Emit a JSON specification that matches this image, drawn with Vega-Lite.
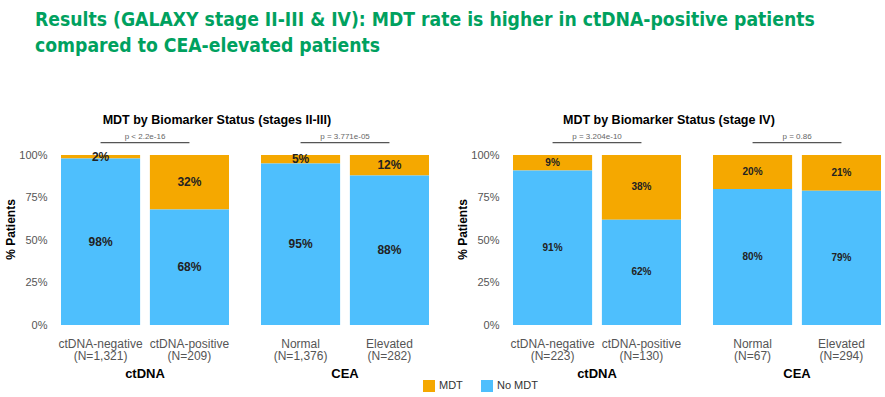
{
  "$schema": "https://vega.github.io/schema/vega-lite/v6.json",
  "padding": {"left": 4, "top": 11, "right": 0, "bottom": 0},
  "background": "white",
  "config": {
    "font": "Liberation Sans",
    "view": {"stroke": null},
    "axis": {"grid": false, "domain": false, "ticks": false}
  },
  "title": {
    "text": ["Results (GALAXY stage II-III & IV): MDT rate is higher in ctDNA-positive patients", "compared to CEA-elevated patients"],
    "font": "DejaVu Sans Condensed, Liberation Sans",
    "fontSize": 19.2,
    "fontWeight": "bold",
    "color": "#00A15F",
    "anchor": "start",
    "frame": "group",
    "dx": -26,
    "lineHeight": 26,
    "offset": 58
  },
  "hconcat": [
    {
      "title": {"text": "MDT by Biomarker Status (stages II-III)", "fontSize": 12.5, "fontWeight": "bold", "color": "#000", "anchor": "middle", "offset": 6},
      "data": {"values": [
        {"group": "ctDNA", "cat": "ctDNA-negative|(N=1,321)", "status": "MDT", "pct": 0.02, "p": "p < 2.2e-16"},
        {"group": "ctDNA", "cat": "ctDNA-negative|(N=1,321)", "status": "No MDT", "pct": 0.98},
        {"group": "ctDNA", "cat": "ctDNA-positive|(N=209)", "status": "MDT", "pct": 0.32},
        {"group": "ctDNA", "cat": "ctDNA-positive|(N=209)", "status": "No MDT", "pct": 0.68},
        {"group": "CEA", "cat": "Normal|(N=1,376)", "status": "MDT", "pct": 0.05, "p": "p = 3.771e-05"},
        {"group": "CEA", "cat": "Normal|(N=1,376)", "status": "No MDT", "pct": 0.95},
        {"group": "CEA", "cat": "Elevated|(N=282)", "status": "MDT", "pct": 0.12},
        {"group": "CEA", "cat": "Elevated|(N=282)", "status": "No MDT", "pct": 0.88}
      ]},
      "facet": {"column": {"field": "group", "type": "nominal", "sort": ["ctDNA", "CEA"],
        "header": {"title": null, "labelOrient": "bottom", "labelFontSize": 13, "labelFontWeight": "bold", "labelColor": "#000", "labelPadding": 6}}},
      "spacing": 31,
      "resolve": {"scale": {"x": "independent"}},
      "spec": {
        "width": 168,
        "height": 192,
        "encoding": {
          "x": {"field": "cat", "type": "nominal", "sort": ["ctDNA-negative|(N=1,321)", "ctDNA-positive|(N=209)", "Normal|(N=1,376)", "Elevated|(N=282)"],
            "scale": {"paddingInner": 0.11, "paddingOuter": 0},
            "axis": {"title": null, "labelAngle": 0, "labelExpr": "split(datum.label, '|')", "labelFontSize": 12, "labelColor": "#555", "labelPadding": 13, "labelLineHeight": 12.5}}
        },
        "layer": [
          {
            "mark": {"type": "bar"},
            "encoding": {
              "y": {"field": "pct", "type": "quantitative", "stack": "zero", "scale": {"domain": [0, 1.13], "nice": false},
                "axis": {"title": "% Patients", "titleFontSize": 12, "titleFontWeight": "bold", "titleColor": "#000", "titlePadding": 1, "values": [0, 0.25, 0.5, 0.75, 1], "format": ".0%", "labelFontSize": 11, "labelColor": "#555", "labelPadding": 11}},
              "color": {"field": "status", "type": "nominal", "scale": {"domain": ["MDT", "No MDT"], "range": ["#F5A800", "#4EBFFD"]},
                "legend": {"title": null, "orient": "none", "legendX": 362, "legendY": 247, "direction": "horizontal", "padding": 0, "symbolType": "square", "symbolSize": 144, "symbolStrokeWidth": 0, "labelFontSize": 11, "labelColor": "#333", "columnPadding": 18}},
              "order": {"field": "status", "sort": "descending"}
            }
          },
          {
            "mark": {"type": "text", "fontSize": 12, "fontWeight": "bold", "color": "#222", "baseline": "middle"},
            "encoding": {
              "y": {"field": "pct", "type": "quantitative", "stack": "zero", "bandPosition": 0.5},
              "detail": {"field": "status"},
              "order": {"field": "status", "sort": "descending"},
              "text": {"field": "pct", "type": "quantitative", "format": ".0%"}
            }
          },
          {
            "transform": [{"filter": "datum.status === 'MDT'"}],
            "mark": {"type": "line", "color": "#555", "strokeWidth": 1.3},
            "encoding": {
              "y": {"datum": 1.073}
            }
          },
          {
            "transform": [{"filter": "datum.p"}],
            "mark": {"type": "text", "fontSize": 8, "color": "#666", "baseline": "middle", "align": "center"},
            "encoding": {
              "x": {"field": "cat", "type": "nominal", "bandPosition": 1.062, "sort": ["ctDNA-negative|(N=1,321)", "ctDNA-positive|(N=209)", "Normal|(N=1,376)", "Elevated|(N=282)"]},
              "y": {"datum": 1.108},
              "text": {"field": "p"}
            }
          }
        ]
      }
    },
    {
      "title": {"text": "MDT by Biomarker Status (stage IV)", "fontSize": 12.5, "fontWeight": "bold", "color": "#000", "anchor": "middle", "offset": 6},
      "data": {"values": [
        {"group": "ctDNA", "cat": "ctDNA-negative|(N=223)", "status": "MDT", "pct": 0.09, "p": "p = 3.204e-10"},
        {"group": "ctDNA", "cat": "ctDNA-negative|(N=223)", "status": "No MDT", "pct": 0.91},
        {"group": "ctDNA", "cat": "ctDNA-positive|(N=130)", "status": "MDT", "pct": 0.38},
        {"group": "ctDNA", "cat": "ctDNA-positive|(N=130)", "status": "No MDT", "pct": 0.62},
        {"group": "CEA", "cat": "Normal|(N=67)", "status": "MDT", "pct": 0.20, "p": "p = 0.86"},
        {"group": "CEA", "cat": "Normal|(N=67)", "status": "No MDT", "pct": 0.80},
        {"group": "CEA", "cat": "Elevated|(N=294)", "status": "MDT", "pct": 0.21},
        {"group": "CEA", "cat": "Elevated|(N=294)", "status": "No MDT", "pct": 0.79}
      ]},
      "facet": {"column": {"field": "group", "type": "nominal", "sort": ["ctDNA", "CEA"],
        "header": {"title": null, "labelOrient": "bottom", "labelFontSize": 13, "labelFontWeight": "bold", "labelColor": "#000", "labelPadding": 6}}},
      "spacing": 31,
      "resolve": {"scale": {"x": "independent"}},
      "spec": {
        "width": 168,
        "height": 192,
        "encoding": {
          "x": {"field": "cat", "type": "nominal", "sort": ["ctDNA-negative|(N=223)", "ctDNA-positive|(N=130)", "Normal|(N=67)", "Elevated|(N=294)"],
            "scale": {"paddingInner": 0.11, "paddingOuter": 0},
            "axis": {"title": null, "labelAngle": 0, "labelExpr": "split(datum.label, '|')", "labelFontSize": 12, "labelColor": "#555", "labelPadding": 13, "labelLineHeight": 12.5}}
        },
        "layer": [
          {
            "mark": {"type": "bar"},
            "encoding": {
              "y": {"field": "pct", "type": "quantitative", "stack": "zero", "scale": {"domain": [0, 1.13], "nice": false},
                "axis": {"title": "% Patients", "titleFontSize": 12, "titleFontWeight": "bold", "titleColor": "#000", "titlePadding": 1, "values": [0, 0.25, 0.5, 0.75, 1], "format": ".0%", "labelFontSize": 11, "labelColor": "#555", "labelPadding": 11}},
              "color": {"field": "status", "type": "nominal", "scale": {"domain": ["MDT", "No MDT"], "range": ["#F5A800", "#4EBFFD"]},
                "legend": {"title": null, "orient": "none", "legendX": 362, "legendY": 247, "direction": "horizontal", "padding": 0, "symbolType": "square", "symbolSize": 144, "symbolStrokeWidth": 0, "labelFontSize": 11, "labelColor": "#333", "columnPadding": 18}},
              "order": {"field": "status", "sort": "descending"}
            }
          },
          {
            "mark": {"type": "text", "fontSize": 10, "fontWeight": "bold", "color": "#222", "baseline": "middle"},
            "encoding": {
              "y": {"field": "pct", "type": "quantitative", "stack": "zero", "bandPosition": 0.5},
              "detail": {"field": "status"},
              "order": {"field": "status", "sort": "descending"},
              "text": {"field": "pct", "type": "quantitative", "format": ".0%"}
            }
          },
          {
            "transform": [{"filter": "datum.status === 'MDT'"}],
            "mark": {"type": "line", "color": "#555", "strokeWidth": 1.3},
            "encoding": {
              "y": {"datum": 1.073}
            }
          },
          {
            "transform": [{"filter": "datum.p"}],
            "mark": {"type": "text", "fontSize": 8, "color": "#666", "baseline": "middle", "align": "center"},
            "encoding": {
              "x": {"field": "cat", "type": "nominal", "bandPosition": 1.062, "sort": ["ctDNA-negative|(N=223)", "ctDNA-positive|(N=130)", "Normal|(N=67)", "Elevated|(N=294)"]},
              "y": {"datum": 1.108},
              "text": {"field": "p"}
            }
          }
        ]
      }
    }
  ],
  "spacing": 27
}
